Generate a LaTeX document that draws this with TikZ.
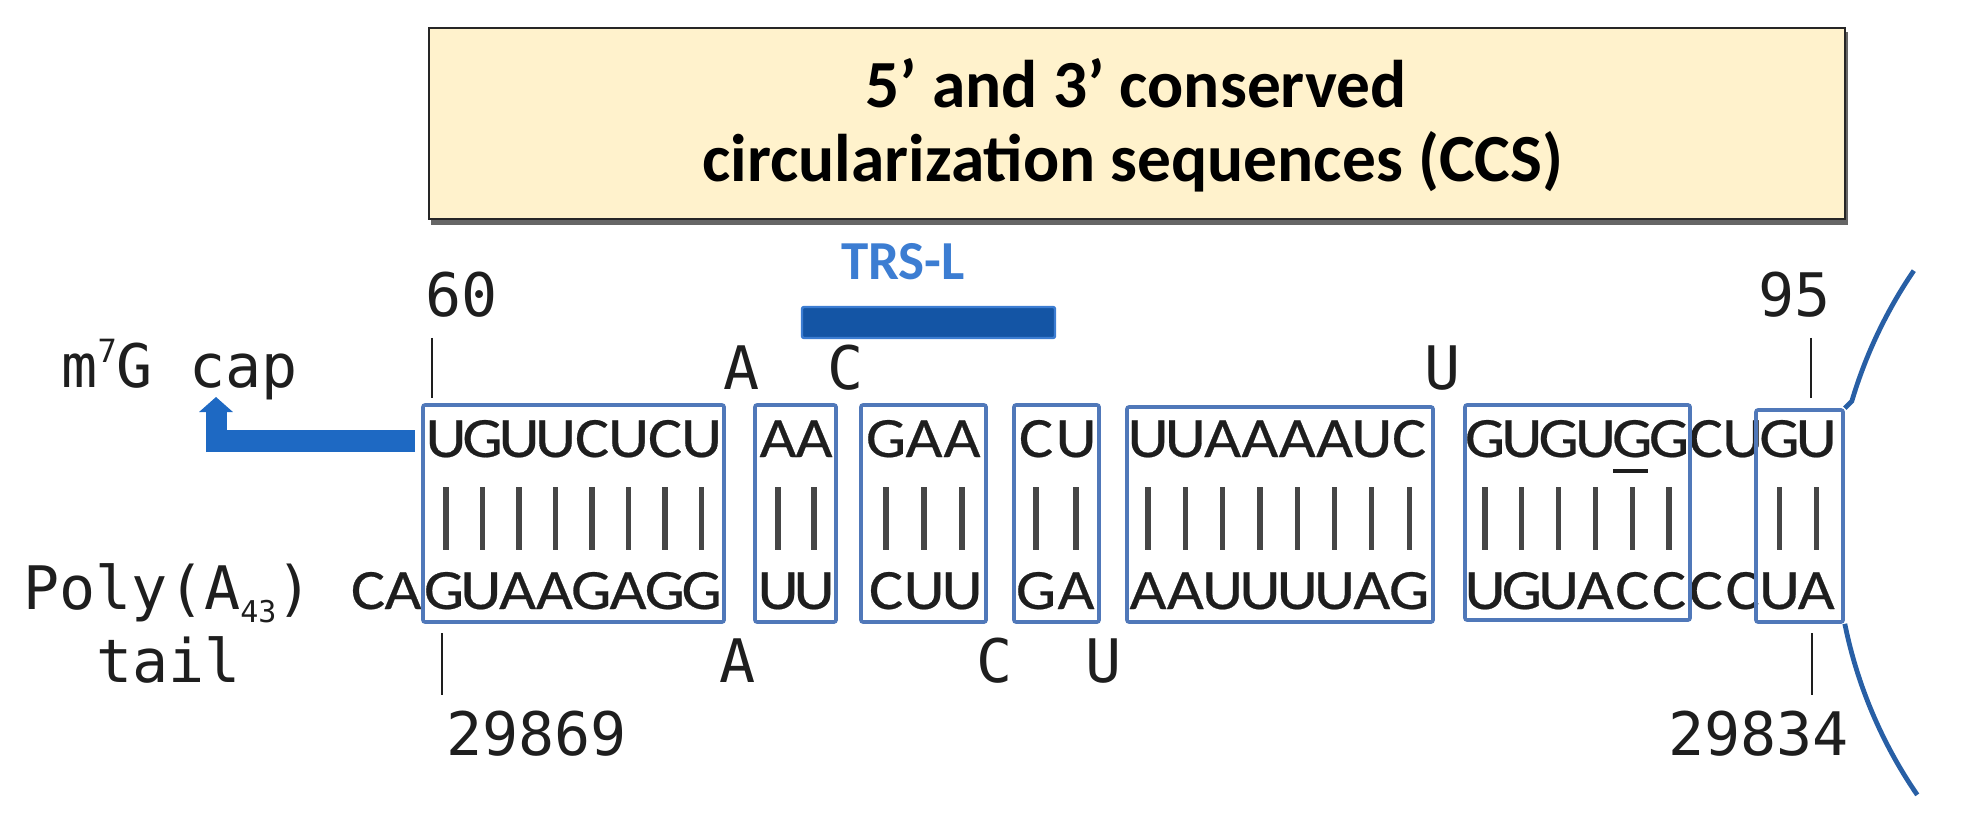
\documentclass[tikz,border=0pt]{standalone}
\usepackage{fontspec}
\setmainfont{Carlito}
\newfontfamily\monof{DejaVu Sans Mono}
\newfontfamily\seqf[FakeBold=0.4]{Carlito}
\usetikzlibrary{arrows.meta,fit}
\definecolor{titlefill}{RGB}{255,242,204}
\definecolor{boxc}{RGB}{80,120,185}
\definecolor{arrowc}{RGB}{30,105,195}
\definecolor{trsc}{RGB}{60,125,210}
\definecolor{trsbar}{RGB}{20,85,165}
\definecolor{arcc}{RGB}{40,95,165}
\definecolor{ink}{RGB}{30,30,30}
\definecolor{barc}{RGB}{70,70,70}
\newcommand\seqrow[5]{\foreach \l [count=\i from 0] in {#5} {\node[seq] (#1\i) at ({#2+\i*#3},#4) {\scalebox{1.12}[1]{\l}};}}
\newcommand\pairbars[3]{\foreach \i in {#3} {\draw[pairbar] ({#1+\i*#2},487) -- ({#1+\i*#2},550);}}
\begin{document}
\begin{tikzpicture}[x=0.5pt,y=-0.5pt,
  seq/.style={font=\seqf\fontsize{28.5}{30}\selectfont, text=ink, anchor=base, inner sep=0pt},
  mono/.style={font=\monof\fontsize{30}{32}\selectfont, text=ink, inner sep=0pt},
  pbox/.style={draw=boxc, line width=1.8pt, rounded corners=1pt, inner sep=0pt},
  pairbar/.style={draw=barc, line width=2.6pt},
  tickline/.style={draw=ink, line width=1.4pt},
  arcline/.style={draw=arcc, line width=2.4pt},
  titletext/.style={font=\bfseries\fontsize{33.7}{36}\selectfont, text=black, anchor=base, inner sep=0pt}]
\useasboundingbox (0,0) rectangle (1963,828);
% title box
\fill[black!60] (431,32) rectangle (1848,225);
\node[fill=titlefill, draw=black!85, line width=1.3pt, inner sep=0pt, fit={(429,28)(1845,219)}] (title) {};
\node[titletext] (title1) at (1136,108) {5’ and 3’ conserved};
\node[titletext] (title2) at (1133,182) {circularization sequences (CCS)};
% TRS-L
\node[font=\bfseries\fontsize{27.5}{30}\selectfont, text=trsc, anchor=base, inner sep=0pt] (trsl) at (903,280) {TRS-L};
\node[fill=trsbar, draw=trsc, line width=1.2pt, rounded corners=1pt, inner sep=0pt, fit={(802,307)(1055,338)}] (trsbar) {};
% numbers and labels
\node[mono, anchor=base west] (n60) at (425,317) {60};
\node[mono, anchor=base west] (n95) at (1758,317) {95};
\node[mono, anchor=base east] (m7g) at (298,387) {m\raisebox{0.75ex}{\fontsize{16}{16}\selectfont 7}G cap};
\node[mono, anchor=base east] (poly) at (313,609) {Poly(A\makebox[0.602em][l]{\raisebox{-0.4ex}{\fontsize{15}{15}\selectfont 43}})};
\node[mono, anchor=base west] (tail) at (96,682) {tail};
\node[mono, anchor=base west] (n29869) at (446,755) {29869};
\node[mono, anchor=base west] (n29834) at (1668,755) {29834};
% mismatched bases
\node[mono, anchor=base] (mA1) at (742,389) {A};
\node[mono, anchor=base] (mC1) at (846,389) {C};
\node[mono, anchor=base] (mU1) at (1443,389) {U};
\node[mono, anchor=base] (mA2) at (738,682) {A};
\node[mono, anchor=base] (mC2) at (995,682) {C};
\node[mono, anchor=base] (mU2) at (1104,682) {U};
% ticks
\draw[tickline] (432,338) -- (432,398);
\draw[tickline] (1811,338) -- (1811,398);
\draw[tickline] (442,633) -- (442,695);
\draw[tickline] (1812,633) -- (1812,695);
% sequences, top row
\seqrow{ta}{446}{36.5}{457}{U,G,U,U,C,U,C,U}
\seqrow{tb}{778}{36}{457}{A,A}
\seqrow{tc}{886}{38}{457}{G,A,A}
\seqrow{td}{1036}{40}{457}{C,U}
\seqrow{te}{1148}{37.3}{457}{U,U,A,A,A,A,U,C}
\seqrow{tf}{1485}{36.8}{457}{G,U,G,U,G,G,C,U,G,U}
% sequences, bottom row
\seqrow{bz}{368}{35}{609}{C,A}
\seqrow{ba}{444}{36.8}{609}{G,U,A,A,G,A,G,G}
\seqrow{bb}{778}{36}{609}{U,U}
\seqrow{bc}{886}{38}{609}{C,U,U}
\seqrow{bd}{1036}{40}{609}{G,A}
\seqrow{be}{1148}{37.3}{609}{A,A,U,U,U,U,A,G}
\seqrow{bf}{1485}{36.8}{609}{U,G,U,A,C,C,C,C,U,A}
\draw[draw=ink, line width=1.6pt] (1613,471) -- (1648,471);
% pairing bars
\pairbars{446}{36.5}{0,...,7}
\pairbars{778}{36}{0,1}
\pairbars{886}{38}{0,1,2}
\pairbars{1036}{40}{0,1}
\pairbars{1148}{37.3}{0,...,7}
\pairbars{1485}{36.8}{0,...,5,8,9}
% boxes
\node[pbox, fit={(423,405)(724,622)}] (b1) {};
\node[pbox, fit={(755,405)(836,622)}] (b2) {};
\node[pbox, fit={(861,405)(986,622)}] (b3) {};
\node[pbox, fit={(1014,405)(1099,622)}] (b4) {};
\node[pbox, fit={(1127,407)(1433,622)}] (b5) {};
\node[pbox, fit={(1465,405)(1690,620)}] (b6) {};
\node[pbox, fit={(1756,410)(1843,622)}] (b7) {};
% cap arrow
\coordinate (seqstart) at (415,441);
\coordinate (bend) at (222,441);
\coordinate (capfoot) at (216,452);
\coordinate (captip) at (216,397);
\draw[arrowc, line width=11pt] (seqstart) -- (bend);
\draw[arrowc, line width=10.5pt, -{Triangle[width=16.5pt,length=7.5pt]}] (capfoot) -- (captip);
% circular genome arc
\draw[arcline] (b7.north east) -- ++(7,-7) arc[start angle=196.5, end angle=214.3, radius=467];
\draw[arcline] (b7.south east) arc[start angle=168.6, end angle=145.5, radius=464];
\end{tikzpicture}
\end{document}
